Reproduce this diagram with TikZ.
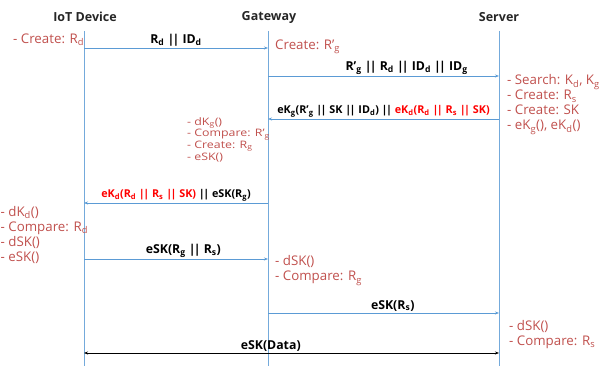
\documentclass[tikz,border=0pt]{standalone}
\usepackage{fontspec}
\setmainfont{Open Sans}
\newfontfamily\widefont[FakeStretch=1.2]{Open Sans}
\usetikzlibrary{arrows.meta}

\definecolor{lineblue}{RGB}{91,155,213}
\definecolor{notered}{RGB}{192,80,77}
\newcommand*{\sbs}[1]{\textsubscript{#1}}
\newcommand*{\dbar}{|\kern-0.15em|}
\newcommand*{\ytop}{31}
\newcommand*{\ybot}{366}

\begin{document}
\begin{tikzpicture}
[
	x=1pt,y=-1pt,
	header/.style={font=\bfseries\fontsize{12.5}{14}\selectfont,text=black!85},
	lifeline/.style={lineblue!85,line width=0.6pt},
	msg/.style={lineblue,line width=0.8pt,-{Stealth[length=4pt,width=3pt]}},
	msglabel/.style={font=\bfseries\fontsize{12.3}{14}\selectfont,text=black,above,inner sep=1.5pt},
	smalllabel/.style={msglabel,font=\bfseries\fontsize{10.8}{12}\selectfont},
	note/.style={text=notered,font=\fontsize{13.3}{15}\selectfont,align=left,anchor=west,inner sep=0pt},
	smallnote/.style={note,font=\widefont\fontsize{10.3}{9.9}\selectfont}
]

	\useasboundingbox (0,0) rectangle (600,366);

	% headers
	\node[header] (dev) at (85,17) {IoT Device};
	\node[header] (gw) at (269,17) {Gateway};
	\node[header] (srv) at (499,17) {Server};

	% lifelines
	\coordinate (devtop) at (84,\ytop);
	\coordinate (devbot) at (84,\ybot);
	\coordinate (gwtop) at (268,\ytop);
	\coordinate (gwbot) at (268,\ybot);
	\coordinate (srvtop) at (499,\ytop);
	\coordinate (srvbot) at (499,\ybot);
	\draw[lifeline] (devtop) -- (devbot);
	\draw[lifeline] (gwtop) -- (gwbot);
	\draw[lifeline] (srvtop) -- (srvbot);

	% messages
	\draw[msg] (devtop |- 0,48) -- node[msglabel] {R\sbs{d} \dbar{} ID\sbs{d}} (gwtop |- 0,48);
	\draw[msg] (gwtop |- 0,76) -- node[msglabel,pos=0.6] {R’\sbs{g} \dbar{} R\sbs{d} \dbar{} ID\sbs{d} \dbar{} ID\sbs{g}} (srvtop |- 0,76);
	\draw[msg] (srvtop |- 0,119) -- node[smalllabel] {eK\sbs{g}(R’\sbs{g} \dbar{} SK \dbar{} ID\sbs{d}) \dbar{} \textcolor{red}{eK\sbs{d}(R\sbs{d} \dbar{} R\sbs{s} \dbar{} SK)}} (gwtop |- 0,119);
	\draw[msg] (gwtop |- 0,203) -- node[smalllabel] {\textcolor{red}{eK\sbs{d}(R\sbs{d} \dbar{} R\sbs{s} \dbar{} SK)} \dbar{} eSK(R\sbs{g})} (devtop |- 0,203);
	\draw[msg] (devtop |- 0,259) -- node[msglabel,pos=0.54] {eSK(R\sbs{g} \dbar{} R\sbs{s})} (gwtop |- 0,259);
	\draw[msg] (gwtop |- 0,313) -- node[msglabel,pos=0.54] {eSK(R\sbs{s})} (srvtop |- 0,313);
	\draw[black,line width=1pt,{Stealth[length=4pt,width=3pt]}-{Stealth[length=4pt,width=3pt]}] (devtop |- 0,353) -- node[msglabel,pos=0.45] {eSK(Data)} (srvtop |- 0,353);

	% notes
	\node[note] (ndev1) at (13,40) {- Create: R\sbs{d}};
	\node[note] (ngw1) at (275,47) {Create: R’\sbs{g}};
	\node[note] (nsrv1) at (507,104.5) {- Search: K\sbs{d}, K\sbs{g}\\- Create: R\sbs{s}\\- Create: SK\\- eK\sbs{g}(), eK\sbs{d}()};
	\node[smallnote] (ngw2) at (187,139.5) {- dK\sbs{g}()\\- Compare: R’\sbs{g}\\- Create: R\sbs{g}\\- eSK()};
	\node[note] (ndev2) at (0.5,234.5) {- dK\sbs{d}()\\- Compare: R\sbs{d}\\- dSK()\\- eSK()};
	\node[note] (ngw3) at (275,270.5) {- dSK()\\- Compare: R\sbs{g}};
	\node[note] (nsrv2) at (509,334.5) {- dSK()\\- Compare: R\sbs{s}};

\end{tikzpicture}
\end{document}
